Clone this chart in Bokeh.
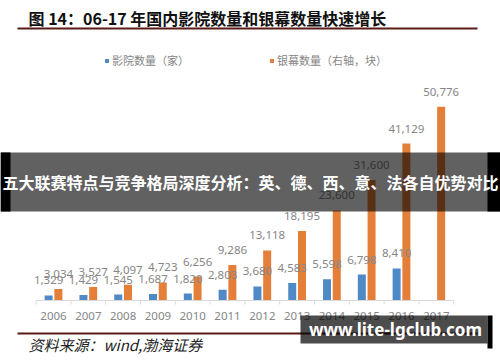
from bokeh.plotting import figure
from bokeh.models import (Range1d, Label, BoxAnnotation, Legend, LegendItem,
                          ColumnDataSource)
from bokeh.embed import file_html
from bokeh.resources import INLINE
from bokeh.core.properties import value

# ---------------- data ----------------
years = [2006, 2007, 2008, 2009, 2010, 2011, 2012, 2013, 2014, 2015, 2016, 2017]
year_labels = [str(y) for y in years]
cinemas = [1329, 1429, 1545, 1687, 1820, 2803, 3680, 4583, 5598, 6798, 8410, None]
screens = [3034, 3527, 4097, 4723, 6256, 9286, 13118, 18195, 23600, 31600, 41129, 50776]

title_text = "图 14：06-17 年国内影院数量和银幕数量快速增长"
legend_cinema = "影院数量（家）"
legend_screen = "银幕数量（右轴，块）"
source_text = "资料来源：wind,渤海证券"
banner_text = "五大联赛特点与竞争格局深度分析：英、德、西、意、法各自优势对比"
watermark_text = "www.lite-lgclub.com"

# ---------------- layout ----------------
W, H = 500, 362
STEP = 34.8      # px per category
X0 = 53          # px of first category centre
PX = 262         # value units per pixel
BASE = 300       # baseline px from top

BLUE = "#4f89c6"
ORANGE = "#e47f3a"
GREY = "#868686"
CJK = "Noto Sans CJK SC"
RULE = "#5a1b17"


def box(left, right, top, bottom, color, alpha):
    """Decoration box given in pixels from the top-left corner."""
    return BoxAnnotation(left=left, right=right, top=H - top, bottom=H - bottom,
                         left_units="screen", right_units="screen",
                         top_units="screen", bottom_units="screen",
                         fill_color=color, fill_alpha=alpha, line_color=None)


def label(x, y, text, size, color, font=CJK, style="normal", align="left"):
    return Label(x=x, y=H - y, x_units="screen", y_units="screen", text=text,
                 text_font=font, text_font_size=size, text_font_style=style,
                 text_color=color, text_baseline="middle", text_align=align)


x_range = Range1d(years[0] - X0 / STEP, years[0] + (W - X0) / STEP)
y_range = Range1d(-(H - BASE) * PX, BASE * PX)

p = figure(width=W, height=H, x_range=x_range, y_range=y_range,
           x_axis_type=None, y_axis_type=None, output_backend="svg",
           toolbar_location=None, min_border=0, outline_line_color=None,
           background_fill_color="white", border_fill_color="white")
p.extra_y_ranges = {"screens": Range1d(-(H - BASE) * PX, BASE * PX)}
p.grid.visible = False

# bars
c_idx = [i for i, v in enumerate(cinemas) if v is not None]
src_c = ColumnDataSource(dict(
    x=[years[i] - 0.14 for i in c_idx],
    top=[cinemas[i] for i in c_idx],
    label=[f"{cinemas[i]:,}" for i in c_idx]))
src_s = ColumnDataSource(dict(
    x=[y + 0.14 for y in years],
    top=screens,
    label=[f"{v:,}" for v in screens]))

rc = p.vbar(x="x", top="top", width=0.23, source=src_c,
            fill_color=BLUE, line_color=None)
rs = p.vbar(x="x", top="top", width=0.23, source=src_s,
            fill_color=ORANGE, line_color=None, y_range_name="screens")

p.text(x="x", y="top", text="label", source=src_c, text_align="center",
       text_baseline="middle", y_offset=-15, text_font=value("Noto Sans"),
       text_font_size="11.5px", text_color=GREY)
p.text(x="x", y="top", text="label", source=src_s, text_align="center",
       text_baseline="middle", y_offset=-15, text_font=value("Noto Sans"),
       text_font_size="11.5px", text_color=GREY, y_range_name="screens")

# category axis
p.segment(x0=[years[0] - 0.5], y0=[0], x1=[years[-1] + 0.5], y1=[0],
          line_color="#d9d9d9", line_width=1)
ticks = [y - 0.5 for y in years] + [years[-1] + 0.5]
p.segment(x0=ticks, y0=[0] * len(ticks), x1=ticks, y1=[-4 * PX] * len(ticks),
          line_color="#d9d9d9", line_width=1)
p.text(x=years, y=[0] * len(years), text=year_labels, text_align="center",
       text_baseline="middle", y_offset=15, text_font=value("Noto Sans"),
       text_font_size="11.5px", text_color=GREY)

# legend
legend = Legend(items=[LegendItem(label=legend_cinema, renderers=[rc]),
                       LegendItem(label=legend_screen, renderers=[rs])],
                location=(104, H - 68), orientation="horizontal",
                glyph_width=5, glyph_height=5, label_standoff=3, spacing=80,
                padding=0, margin=0, border_line_color=None,
                background_fill_alpha=0, label_height=12,
                label_text_font=CJK, label_text_font_size="11px",
                label_text_color=GREY)
p.add_layout(legend)

# title and rules
p.add_layout(label(28, 17, title_text, "16px", "#111111", style="bold"))
p.add_layout(box(17, 477, 27, 29, RULE, 1))
p.add_layout(box(17, 477, 332, 334, RULE, 1))
p.add_layout(label(28, 344, source_text, "15px", "#222222", style="italic"))

# overlay banner
p.add_layout(box(0, W, 152, 211, "black", 0.62))
p.add_layout(box(0, 10, 152, 211, "black", 1))
p.add_layout(box(487, W, 152, 211, "black", 1))
p.add_layout(label(W / 2, 181, banner_text, "16px", "white", style="bold",
                   align="center"))

# watermark
p.add_layout(box(300, 487, 315, 343, "black", 0.7))
p.add_layout(box(487, 492, 315, 348, "black", 1))
p.add_layout(label(395, 329, watermark_text, "17px", "white",
                   font="Noto Sans", style="bold", align="center"))

open("out.html", "w").write(file_html(p, INLINE))
